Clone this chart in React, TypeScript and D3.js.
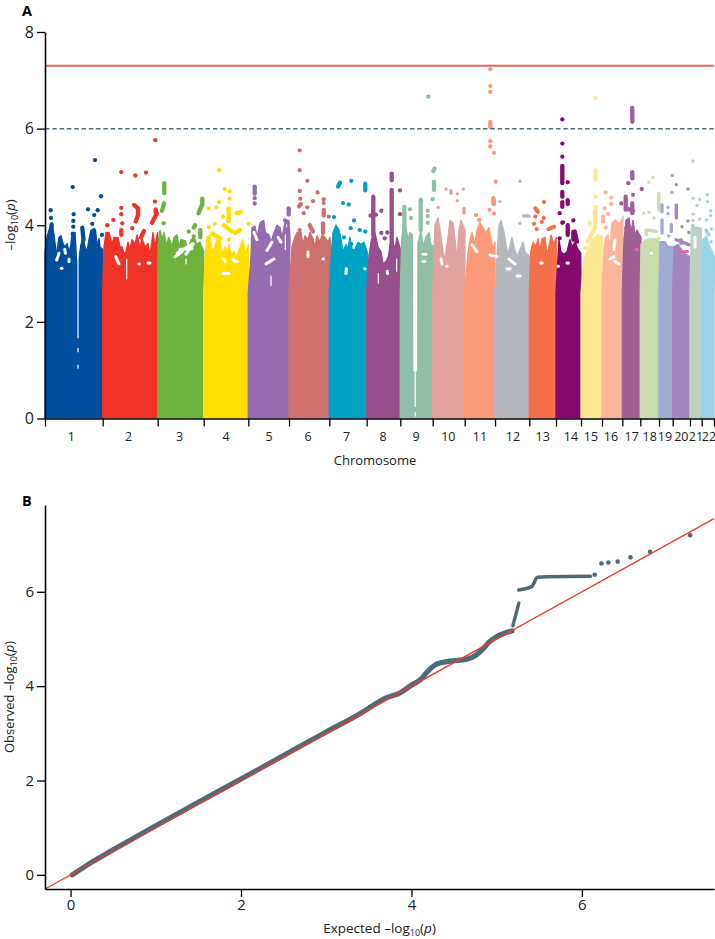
import { useRef, useEffect } from 'react';
import * as d3 from 'd3';

type P = number[];

// genome axis is in bins of about 4.3 Mb, counted from the start of chromosome 1
const chromNames = ['1','2','3','4','5','6','7','8','9','10','11','12','13','14','15','16','17','18','19','20','21','22'];
const chromEnds = [0,57.7,112.7,158.7,203.3,244,284.3,321.7,355.3,387.7,419.7,450,484.3,511,536,557,577.3,595.3,614,627.7,645,656.7,669];
const chromLabelBins = [26.3,83.7,134.7,181,224,263,301.7,338,371,403.3,435,468,497.7,526,546,566,586.7,604.7,620,636.3,651,664];
const chromColors = ['#004f9e','#f03327','#6fb33f','#ffde00','#946db0','#cc7070','#00a2c4','#984d8c','#8fbfa6','#e0a3a0','#fa9a78','#b3b9bf','#f4714a','#850a70','#fee88e','#fbb59a','#a25f96','#c9dcae','#9eabd3','#a586bf','#b9d3c5','#9ad4e8'];
// chromosomes drawn with the smaller dot in the reference
const smallDotChroms = [9,11,17,18,19,20,21];

// upper edge of the dense SNP mass, [bin, -log10 p]
const massTops: P[][] = [
  [[0,3.45],[2,3.75],[4,3.9],[7,4.05],[9,3.8],[10.5,3.55],[11.5,3.35],[13,3.6],[14,3.75],[16,3.78],[18,3.62],[20,3.55],[22,3.62],[24,3.45],[26,3.6],[27,3.85],[30,3.85],[31.5,3.3],[33,3.2],[34.5,3.4],[36,3.6],[38,3.75],[40,3.55],[42,3.45],[44,3.7],[46,3.9],[50,3.85],[52,3.6],[54,3.72],[55,3.55],[57.7,3.5]],
  [[59,3.55],[61,3.85],[64,3.85],[67,3.6],[69,3.75],[73,3.75],[75,3.55],[77,3.55],[79,3.4],[81,3.45],[83,3.65],[85,3.5],[87,3.7],[90,3.6],[92,3.8],[95,3.55],[97,3.72],[100,3.55],[103,3.62],[105,3.35],[106.5,3.6],[108,3.85],[110,3.55],[112.5,3.85]],
  [[113,3.6],[115,3.9],[117,3.7],[119,3.85],[121,3.6],[124,3.75],[127,3.55],[129,3.75],[132,3.8],[134,3.55],[136,3.7],[140,3.68],[143,3.5],[146,3.7],[149,3.75],[152,3.6],[155,3.65],[158.7,3.45]],
  [[160.3,3.35],[162,3.75],[165,3.8],[167,3.45],[170,3.55],[172,3.72],[175,3.7],[177,3.4],[180,3.55],[182,3.45],[184,3.6],[186,3.4],[189,3.45],[192,3.35],[195,3.55],[198,3.7],[200,3.4],[203.3,3.6]],
  [[206,3.35],[207,3.95],[210,3.98],[212,3.75],[215,4.05],[218.7,4.1],[220.3,3.85],[224,3.8],[226,3.65],[229,3.85],[232,4.0],[235,3.95],[237,3.75],[240,4.05],[242,3.85],[243.7,4.1],[245,3.75]],
  [[247,3.55],[250,3.75],[252,3.85],[256,3.85],[258,3.6],[260,3.78],[263,3.7],[265,3.85],[268,3.72],[270,3.55],[272,3.78],[275,3.65],[277,3.8],[280,3.75],[283,3.65],[285,3.75],[286.3,3.45]],
  [[286.3,3.35],[288,3.85],[291,4.0],[294,3.9],[296,3.7],[298,3.45],[301,3.6],[303,3.5],[305,3.75],[307,3.5],[310,3.5],[313,3.65],[316,3.6],[319,3.65],[323,3.39]],
  [[323.7,3.28],[326,3.65],[329,3.9],[331,3.75],[333,3.55],[336,3.45],[338,3.2],[341,3.25],[343.5,3.35],[345,3.6],[348,3.65],[350,3.5],[352,3.75],[354,3.6],[356,3.45]],
  [[356.7,3.7],[358,3.95],[361,3.95],[363,3.7],[365,3.85],[367.7,3.8],[369,3.6],[372,3.6],[374,3.7],[376,3.9],[378,3.55],[381,3.75],[384,3.85],[386,3.6],[389,3.56]],
  [[390,4.0],[393,4.15],[395,3.9],[397,3.6],[399,3.3],[401,3.45],[403,3.75],[405,4.1],[408,4.05],[410,3.7],[412,3.3],[414,3.9],[416,4.1],[418,4.0],[420,3.9]],
  [[423,3.42],[425,3.7],[427,3.85],[430,3.6],[432,3.9],[435,4.05],[438,3.95],[441,3.85],[444,3.95],[446,3.7],[448,3.5],[450,3.65]],
  [[452.3,3.46],[454,4.0],[456,4.1],[459,3.85],[461,3.6],[463,3.4],[465,3.55],[467,3.75],[469,3.55],[472,3.35],[475,3.5],[478,3.65],[480,3.45],[484.3,3.35]],
  [[485.7,3.45],[488,3.65],[491,3.55],[493,3.72],[495,3.45],[497,3.72],[500,3.75],[502,3.4],[504,3.55],[506,3.8],[509,3.6],[511.3,3.75]],
  [[513,3.35],[514,3.7],[516,3.45],[519,3.4],[522,3.45],[525,3.7],[527,3.55],[530,3.65],[533,3.5],[535.7,3.42]],
  [[539,3.3],[541.3,3.42],[546.3,3.7],[553,3.8],[557,3.77]],
  [[559,3.55],[561,3.75],[563,3.8],[565,3.55],[567,4.05],[571,4.12],[574,4.0],[578,4.18]],
  [[579,3.7],[581,4.1],[584,4.15],[586,3.85],[588,4.1],[590,3.8],[592,3.9],[596,3.75]],
  [[596,3.6],[598,3.66],[603,3.72],[608,3.72],[613,3.72],[614,3.6]],
  [[615,3.66],[620,3.66],[623,3.56],[628,3.56]],
  [[629,3.56],[633,3.6],[640,3.4],[645.3,3.35]],
  [[646.3,3.94],[651.3,3.96],[656.3,3.94]],
  [[658,3.7],[661.3,3.77],[664.7,3.56],[669.7,3.35]],
];

// single SNPs above the mass, [bin, -log10 p]
const snpDots: P[][] = [
  [[5.7,4.31],[6,4.15],[27.7,4.79],[28.7,4.23],[28.3,4.09],[28.3,3.97],[27.7,3.82],[43,4.33],[52.7,4.31],[49.3,4.21],[47.3,4.03],[50,5.35],[56,4.6],[57,3.8]],
  [[62.3,4.0],[68.3,4.11],[76.3,4.36],[76.3,4.23],[77.3,4.04],[87.3,3.94],[110,4.49],[76.3,5.1],[90.3,5.03],[101,5.09],[110.3,5.76]],
  [[118.7,4.04],[143.7,3.87],[148.7,3.77]],
  [[163.7,4.35],[171.3,4.37],[174.3,4.48],[179.7,4.75],[184.7,4.7],[184.7,4.55],[178,4.18],[163.7,3.96],[169.7,4.03],[203.7,4.03],[183.7,3.7],[174.3,5.14]],
  [[209.7,4.56],[209.7,4.45]],
  [[254.7,5.55],[254.7,5.14],[262.3,4.92],[254.7,4.71],[272.5,4.68],[255.3,4.55],[268,4.5],[278.7,4.54],[278.7,4.46],[262.3,4.37],[258.7,4.25],[283.7,4.18],[254.7,3.9]],
  [[289,4.17],[306.3,4.92],[298,4.46],[303.7,4.43],[309,4.1],[305.7,3.94],[314.7,3.9],[320.3,3.87],[299,3.75],[306.3,3.61]],
  [[355,4.72],[336.3,4.3],[355,4.23],[336.3,3.84],[342.3,3.85],[339.7,3.73]],
  [[383.3,6.66],[387.7,4.54],[376,4.52],[365,4.33],[366,4.15],[382.7,4.3],[382.7,4.19],[382.7,4.05]],
  [[393.3,4.37],[401,4.75],[412.3,4.65],[412.3,4.51],[418.3,4.75]],
  [[450.7,4.9],[431,4.21],[434.3,4.11],[444.5,4.32],[449,4.24],[445.3,7.23],[445.3,6.88],[445.3,6.76],[445.3,5.74],[445.3,5.63],[449,5.5]],
  [[455,4.49],[475,4.91],[475,4.04]],
  [[499,4.48],[490.3,4.18],[498.7,4.15],[496.7,4.07],[489,4.03],[491.7,3.92]],
  [[517.3,6.19],[517.3,5.69],[517.3,5.42],[522.7,4.89],[514.7,4.25],[517.3,4.05],[528.3,4.1],[514.7,3.73],[518,4.06]],
  [[550.7,6.63],[550.7,4.59],[550.7,4.38],[545,4.03],[544.7,4.06],[542.3,3.66],[540.7,3.53]],
  [[560.7,4.68],[566.3,4.57],[566.3,4.44],[559.7,4.35],[563,4.23],[560.7,3.95]],
  [[583.3,4.87],[596.7,4.75],[588,4.63],[576.3,4.45],[581.3,3.94]],
  [[598.7,4.25],[604,4.27],[604,4.89],[608,4.99],[609,4.15],[613.7,3.73]],
  [[623,4.37],[623,4.24],[627.3,5.03],[627,4.68],[623.7,3.78]],
  [[631.3,4.84],[643,4.75],[637,3.97],[643,4.09],[643.7,3.85]],
  [[648,5.33],[648,4.56],[654.7,4.54],[652,4.41],[648,4.23],[654.7,4.13],[648,4.1]],
  [[662.3,4.63],[662.3,4.49],[665.7,4.3],[665.7,4.2],[661.3,4.11],[666.3,3.92],[666.3,3.66]],
];

// columns of SNPs in LD that read as one stroke, [bin0, p0, bin1, p1]
const snpRuns: P[][] = [
  [[6.7,4.02,5.5,3.7],[37.3,3.95,38.5,3.7],[49,3.9,50,3.7]],
  [[89,4.42,93,4.35],[93,4.35,93,4.2],[93,4.2,90.7,4.08],[76.3,3.9,76.3,3.8],[107,4.05,112,4.25],[110.7,4.33,110.7,4.25],[99,3.88,96,3.75]],
  [[119.3,4.87,119.3,4.66],[119,4.45,117,4.3],[157.3,4.55,157.3,4.42],[157,4.42,153.5,4.25],[150,4.0,148.7,3.95],[155.3,3.9,155.3,3.75]],
  [[183.7,4.35,183.7,4.08],[191.5,4.25,196,4.27],[178.7,4.0,187,3.87],[190,3.84,195,3.9],[167,3.83,175.3,3.73]],
  [[209.7,4.8,209.7,4.65],[243.7,4.35,243.7,4.22],[240,4.1,243,4.05]],
  [[256,4.44,254,4.39],[278.7,4.32,278.7,4.2],[264.7,4.0,268,3.87],[278,4.04,278,3.84]],
  [[293,4.8,295,4.88],[320.3,4.86,320.3,4.72]],
  [[346.7,5.07,346.7,4.93],[346.7,4.73,346.7,3.6],[328.3,4.59,328.3,3.8],[325.5,4.2,331,4.22]],
  [[388.3,5.12,389.5,5.17],[389,4.9,389,4.73],[359.3,4.38,359.3,3.8],[375.7,4.53,375.7,3.9]],
  [[406,4.72,406,4.66],[419,4.35,419,4.25]],
  [[445.3,6.14,445.3,6.03],[449,4.52,449,4.44],[448.3,4.56,448.3,4.45]],
  [[478.5,4.19,484,4.19]],
  [[490.3,4.35,493,4.28],[503.5,3.92,509,3.97]],
  [[517.3,5.23,517.3,4.87],[517.3,4.69,517.3,4.59],[517.3,4.48,517.3,4.38],[522.7,4.52,522.7,4.44],[522.7,4.0,522.7,3.8],[528.3,3.86,528.3,3.7],[529.7,3.87,532,3.66]],
  [[550.7,5.14,550.7,4.94],[550,4.3,550,3.95],[550,3.95,544,3.72]],
  [[558,4.18,558,4.08]],
  [[587.3,6.43,587.3,6.14],[587.3,5.1,587.3,4.97],[580.7,4.59,580.7,4.32],[587.3,4.45,587.3,4.25],[581,4.35,588,4.3]],
  [[613.7,4.66,613.7,4.32],[603,3.9,611,3.87],[601.3,3.9,601.3,3.8]],
  [[617,4.42,617,4.28],[617,4.11,617,3.84],[626.3,4.01,626.3,3.87]],
  [[631.3,4.42,631.3,4.15],[631,3.7,644,3.6],[636,3.7,636,3.62]],
  [[648,4.0,648,3.9]],
  [[661,3.9,664,3.8]],
];

// blank pockets inside the mass, [bin0, p0, bin1, p1]
const massHoles: P[] = [
  [14,3.42,11.7,3.28],[19.7,3.5,20.5,3.42],[24,3.3,24,3.25],[16.3,3.11,17,3.11],
  [70.7,3.35,74,3.2],[94,3.2,94.5,3.2],[103,3.22,105,3.22],
  [132,3.42,148,3.62],[130,3.35,137,3.45],[141,3.4,148,3.6],[135,3.5,147,3.52],
  [178,3.0,184,3.0],[192,3.25,192.5,3.25],[178,3.3,180,3.25],[188,3.3,190,3.25],
  [209,3.85,212,3.7],[222,3.48,227,3.65],[229,3.3,221,3.2],[233,3.75,236,3.65],
  [263,3.45,263,3.35],[278,3.3,278.5,3.3],
  [301.3,3.1,301,3.0],[319.7,3.1,320,3.1],
  [342.3,3.05,342.5,3.0],
  [378,3.4,381,3.4],[378,3.25,380,3.25],
  [396,3.3,397,3.2],[401.7,3.15,402,3.15],
  [427,3.6,432,3.45],[445,3.38,452,3.35],
  [464,3.3,470,3.2],[462,3.1,465,3.1],[472,2.95,475,2.95],
  [495.7,3.22,497,3.22],[513,3.15,513.5,3.15],[522,3.22,523.5,3.22],
  [565,3.3,569,3.35],[570,3.25,574,3.2],[570,3.7,569,3.5],
  [606.3,3.42,606.5,3.42],[650,3.75,650,3.55],
];
// the narrow gaps, centromeres mostly
const massSeams: P[] = [
  [33,3.9,33,1.67],[33,1.45,33,1.38],[33,1.1,33,1.04],[81.7,3.3,81.7,2.89],
  [141,3.3,141,3.2],[226,2.95,226,2.75],[240.3,3.8,240.3,3.5],
  [333.3,3.0,333.3,2.8],[351.7,3.3,351.7,3.05],[370.2,1.0,370.2,0.25],[370.2,0.12,370.2,0.05],
];
const centromereGap9: P[] = [[369.4,4.2,369.6,1.0],[371,4.2,370.8,1.0]];
// two magenta overplots on chromosome 16/17 and 20
const pinkRuns: P[] = [[635.5,3.44,642.5,3.46],[591,3.5,592.5,3.5]];

// QQ plot, [expected, observed]
const qqMain: P[] = [[0.02,0],[0.25,0.27],[0.5,0.53],[1,1.04],[1.5,1.54],[2,2.03],[2.5,2.53],[3,3.03],[3.4,3.42],[3.6,3.65],[3.69,3.74],[3.87,3.86],[4.0,4.02],[4.1,4.13],[4.2,4.33],[4.3,4.47],[4.45,4.53],[4.65,4.57],[4.75,4.65],[4.83,4.77],[4.92,4.95],[5.0,5.05],[5.18,5.17]];
const qqRise: P[] = [[5.19,5.28],[5.26,5.76]];
const qqShelf: P[] = [[5.26,6.04],[5.41,6.11],[5.48,6.31],[5.6,6.32],[6.1,6.33]];
const qqTail: P[] = [[6.15,6.36],[6.23,6.6],[6.31,6.62],[6.42,6.64],[6.57,6.73],[6.8,6.85],[7.27,7.2]];

const pTicks = [0,2,4,6,8];
const qqXTicks = [0,2,4,6];
const qqYTicks = [0,2,4,6];
const genomeWide = 7.3;
const suggestive = 6;

const FONT = '"Open Sans", sans-serif';
const RED = '#ee625a';
const SLATE = '#4f6b78';

export default function App() {
  const svgRef = useRef<SVGSVGElement>(null);

  useEffect(() => {
    const svg = d3.select(svgRef.current);
    svg.selectAll('*').remove();
    svg.style('font-family', FONT);

    // Panel A
    const x = d3.scaleLinear().domain([0, 669]).range([45, 714]);
    const y = d3.scaleLinear().domain([0, 8]).range([418.5, 32]);
    const a = svg.append('g');

    const outline = d3.line<P>().x((d) => x(d[0])).y((d) => y(d[1]));
    chromNames.forEach((_, i) => {
      const start = chromEnds[i];
      const end = chromEnds[i + 1];
      // keep the sides upright up to the shoulder of the mass
      const pts = [[start, 0], [start, 2.6], ...massTops[i], [end, 2.6], [end, 0]];
      a.append('path')
        .attr('d', outline(pts))
        .attr('fill', chromColors[i])
        .attr('stroke', chromColors[i])
        .attr('stroke-width', 1.4)
        .attr('stroke-linejoin', 'round');
    });

    const stroke = (g: any, d: P, color: string, w: number) =>
      g.append('line')
        .attr('x1', x(d[0])).attr('y1', y(d[1]))
        .attr('x2', x(d[2])).attr('y2', y(d[3]))
        .attr('stroke', color)
        .attr('stroke-width', w)
        .attr('stroke-linecap', 'round');

    massHoles.forEach((d) => stroke(a, d, '#fff', 3));
    centromereGap9.forEach((d) => stroke(a, d, '#fff', 2.6));
    massSeams.forEach((d) => stroke(a, d, '#fff', 1.2));

    chromNames.forEach((_, i) => {
      const small = smallDotChroms.includes(i);
      snpRuns[i].forEach((d) => stroke(a, d, chromColors[i], small ? 3.4 : 4.3));
      snpDots[i].forEach((d) => {
        a.append('circle')
          .attr('cx', x(d[0])).attr('cy', y(d[1]))
          .attr('r', small ? 1.7 : 2.15)
          .attr('fill', chromColors[i]);
      });
    });
    pinkRuns.forEach((d) => stroke(a, d, '#e8649c', 3));

    a.append('line').attr('x1', 45).attr('x2', 714)
      .attr('y1', y(genomeWide)).attr('y2', y(genomeWide))
      .attr('stroke', RED).attr('stroke-width', 1.9);
    a.append('line').attr('x1', 45).attr('x2', 714)
      .attr('y1', y(suggestive)).attr('y2', y(suggestive))
      .attr('stroke', SLATE).attr('stroke-width', 1.5).attr('stroke-dasharray', '4.5 2.8');

    const styleAxis = (g: any, size: number) => {
      g.selectAll('.domain').attr('stroke', '#000').attr('stroke-width', 1.6);
      g.selectAll('line').attr('stroke', '#000').attr('stroke-width', 1.3);
      g.selectAll('text').attr('fill', '#222').attr('font-size', size).attr('font-family', FONT);
    };

    a.append('g')
      .attr('transform', 'translate(45,0)')
      .call(d3.axisLeft(y).tickValues(pTicks).tickSize(8).tickSizeOuter(0).tickPadding(3).tickFormat(d3.format('d')))
      .call((g) => styleAxis(g, 16));

    a.append('g')
      .attr('transform', `translate(0,${y(0)})`)
      .call(d3.axisBottom(x).tickValues(chromEnds).tickSize(8).tickSizeOuter(0).tickFormat(() => ''))
      .call((g) => styleAxis(g, 12));

    a.append('g').selectAll('text').data(chromNames).join('text')
      .attr('x', (_, i) => x(chromLabelBins[i]))
      .attr('y', 441)
      .attr('text-anchor', 'middle')
      .attr('font-size', 12.5)
      .attr('fill', '#222')
      .text((d) => d);

    a.append('text').attr('x', 375).attr('y', 465).attr('text-anchor', 'middle')
      .attr('font-size', 13).attr('fill', '#222').text('Chromosome');

    const logLabel = (g: any, prefix: string) => {
      g.append('tspan').text(`${prefix}\u2013log`);
      g.append('tspan').attr('font-size', 9).attr('dy', 2.5).text('10');
      g.append('tspan').attr('dy', -2.5).text('(');
      g.append('tspan').attr('font-style', 'italic').text('p');
      g.append('tspan').text(')');
    };

    a.append('text')
      .attr('transform', 'translate(15,225) rotate(-90)')
      .attr('text-anchor', 'middle').attr('font-size', 13.5).attr('fill', '#222')
      .call((g) => logLabel(g, ''));

    svg.append('text').attr('x', 22).attr('y', 15.5).attr('font-size', 14.5).attr('font-weight', 700).attr('fill', '#000').text('A');

    // Panel B
    const qx = d3.scaleLinear().domain([-0.3, 7.55]).range([45, 714]);
    const qy = d3.scaleLinear().domain([-0.3, 7.84]).range([889, 505]);
    const b = svg.append('g');
    const qqLine = d3.line<P>().x((d) => qx(d[0])).y((d) => qy(d[1])).curve(d3.curveMonotoneX);
    const qqPath = (data: P[], w: number) =>
      b.append('path')
        .attr('d', qqLine(data))
        .attr('fill', 'none')
        .attr('stroke', SLATE)
        .attr('stroke-width', w)
        .attr('stroke-linecap', 'round')
        .attr('stroke-linejoin', 'round');
    qqPath(qqMain, 5.2);
    qqPath(qqRise, 3.4);
    qqPath(qqShelf, 3.6);
    qqTail.forEach((d) => {
      b.append('circle').attr('cx', qx(d[0])).attr('cy', qy(d[1])).attr('r', 2.3).attr('fill', SLATE);
    });

    b.append('line')
      .attr('x1', qx(-0.3)).attr('y1', qy(-0.3))
      .attr('x2', qx(7.55)).attr('y2', qy(7.55))
      .attr('stroke', '#ee3a2e').attr('stroke-width', 1.4);

    b.append('g')
      .attr('transform', 'translate(45,0)')
      .call(d3.axisLeft(qy).tickValues(qqYTicks).tickSize(8).tickSizeOuter(0).tickPadding(3).tickFormat(d3.format('d')))
      .call((g) => styleAxis(g, 15));
    b.append('g')
      .attr('transform', 'translate(0,889)')
      .call(d3.axisBottom(qx).tickValues(qqXTicks).tickSize(8).tickSizeOuter(0).tickPadding(2).tickFormat(d3.format('d')))
      .call((g) => styleAxis(g, 15));

    b.append('text').attr('x', 379.5).attr('y', 933).attr('text-anchor', 'middle')
      .attr('font-size', 13.5).attr('fill', '#222').call((g) => logLabel(g, 'Expected '));
    b.append('text')
      .attr('transform', 'translate(14,697) rotate(-90)')
      .attr('text-anchor', 'middle').attr('font-size', 13).attr('fill', '#222')
      .call((g) => logLabel(g, 'Observed '));

    svg.append('text').attr('x', 22).attr('y', 506).attr('font-size', 14.5).attr('font-weight', 700).attr('fill', '#000').text('B');
  }, []);

  return (
    <svg
      ref={svgRef}
      width={715}
      height={939}
      style={{ position: 'absolute', left: 0, top: 0, display: 'block', background: '#fff' }}
    />
  );
}
